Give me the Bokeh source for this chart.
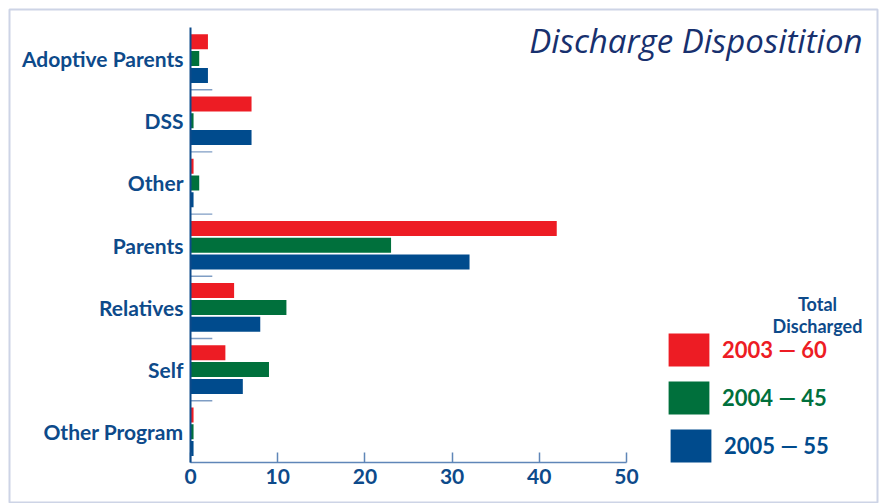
import numpy as np
from bokeh.plotting import figure
from bokeh.models import (Range1d, FixedTicker, Label, Legend, LegendItem, LinearAxis)
from bokeh.embed import file_html
from bokeh.resources import INLINE

# ---- data ----
categories = ["Adoptive Parents", "DSS", "Other", "Parents", "Relatives", "Self", "Other Program"]
years = ["2003", "2004", "2005"]
totals = [60, 45, 55]
v2003 = [2, 7, 0, 42, 5, 4, 0]
v2004 = [1, 0, 1, 23, 11, 9, 0]
v2005 = [2, 7, 0, 32, 8, 6, 0]
x_ticks = [0, 10, 20, 30, 40, 50]
title_text = "Discharge Dispositition"
legend_header = ["Total", "Discharged"]

# ---- style ----
colors = ["#ED1C24", "#00703C", "#004B8D"]
text_blue = "#0D4A8A"
FONT = "Lato"
W, H = 882, 503

idx = np.arange(len(categories))
series = [v2003, v2004, v2005]
offsets = [-0.27, 0.0, 0.27]
stub = 0.35  # zero values are drawn as a thin stub in the original

p = figure(width=W, height=H, output_backend="svg", toolbar_location=None,
           x_range=Range1d(-20.757, 78.784), y_range=Range1d(7.153, -0.7894),
           x_axis_location=None, y_axis_location=None,
           min_border_left=9, min_border_top=9, min_border_right=5, min_border_bottom=0)
p.grid.visible = False
p.outline_line_color = "#CDD4E6"
p.outline_line_width = 2
p.background_fill_color = "white"
p.border_fill_color = "white"

bars = []
for k, vals in enumerate(series):
    shown = np.maximum(np.array(vals, dtype=float), stub)
    r = p.hbar(y=idx + offsets[k], left=0, right=shown, height=0.241,
               fill_color=colors[k], line_color=None)
    bars.append(r)

# separators between categories
sep = idx[:-1] + 0.5
p.segment(x0=0, x1=2.5, y0=sep, y1=sep, line_color="#7F9DC4", line_width=1.4)

yax = LinearAxis(fixed_location=0, bounds=(-0.5, len(categories) - 0.5),
                 ticker=FixedTicker(ticks=list(idx)),
                 major_label_overrides={int(i): c for i, c in zip(idx, categories)},
                 major_tick_in=0, major_tick_out=0, minor_tick_in=0, minor_tick_out=0,
                 axis_line_color=text_blue, axis_line_width=2,
                 major_label_standoff=7, major_label_text_font=FONT,
                 major_label_text_font_style="bold", major_label_text_font_size="21px",
                 major_label_text_color=text_blue)
p.add_layout(yax, "left")

xax = LinearAxis(fixed_location=len(categories) - 0.5, bounds=(x_ticks[0], x_ticks[-1]),
                 ticker=FixedTicker(ticks=x_ticks),
                 major_tick_in=10, major_tick_out=0, minor_tick_in=0, minor_tick_out=0,
                 axis_line_color="#5F86B8", axis_line_width=1.5,
                 major_tick_line_color="#5F86B8", major_tick_line_width=1.5,
                 major_label_standoff=6, major_label_text_font=FONT,
                 major_label_text_font_style="bold", major_label_text_font_size="21px",
                 major_label_text_color=text_blue)
p.add_layout(xax, "below")

# legends (one per year so each label keeps its own colour)
leg_pos = [(654, 133), (654, 85), (656, 37)]
for k in range(3):
    leg = Legend(items=[LegendItem(label=f"{years[k]} — {totals[k]}", renderers=[bars[k]])],
                 location=leg_pos[k], glyph_width=51, glyph_height=41, label_standoff=8,
                 padding=0, margin=0, spacing=0, border_line_color=None,
                 background_fill_alpha=0, label_text_font=FONT,
                 label_text_font_style="bold", label_text_font_size="22px",
                 label_text_color=colors[k], label_height=41)
    p.add_layout(leg)

p.add_layout(Label(x=853, y=463, x_units="screen", y_units="screen", text=title_text,
                   text_align="right", text_baseline="alphabetic", text_font="Open Sans",
                   text_font_style="italic", text_font_size="33px", text_color="#17306E"))
p.add_layout(Label(x=808, y=200, x_units="screen", y_units="screen", text=legend_header[0],
                   text_align="center", text_baseline="alphabetic", text_font=FONT,
                   text_font_style="bold", text_font_size="18px", text_color=text_blue))
p.add_layout(Label(x=808, y=178, x_units="screen", y_units="screen", text=legend_header[1],
                   text_align="center", text_baseline="alphabetic", text_font=FONT,
                   text_font_style="bold", text_font_size="18px", text_color=text_blue))

open("out.html", "w").write(file_html(p, INLINE))
